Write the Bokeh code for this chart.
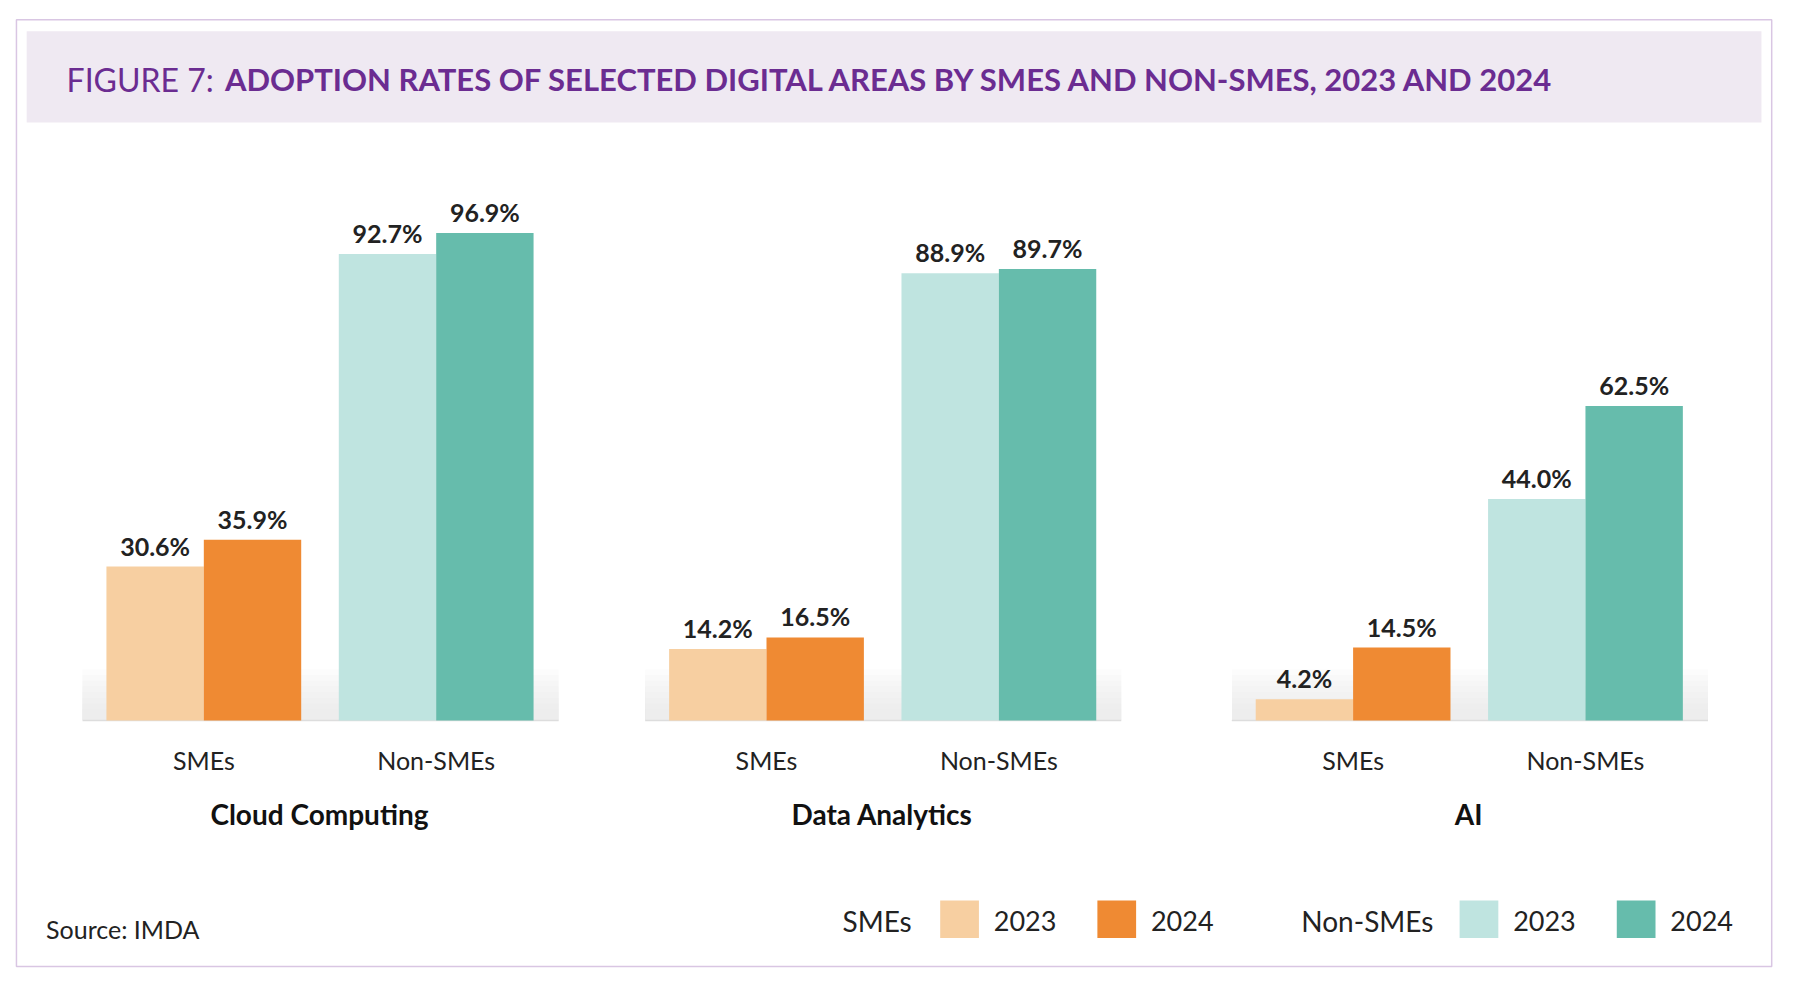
from bokeh.plotting import figure
from bokeh.models import Range1d, ColumnDataSource
from bokeh.core.properties import value
from bokeh.embed import file_html
from bokeh.resources import INLINE

areas = ["Cloud Computing", "Data Analytics", "AI"]
sme_2023 = [30.6, 14.2, 4.2]
sme_2024 = [35.9, 16.5, 14.5]
non_2023 = [92.7, 88.9, 44.0]
non_2024 = [96.9, 89.7, 62.5]
sub_labels = ["SMEs", "Non-SMEs"]
colors = {"s23": "#f7cfa1", "s24": "#ef8a33", "n23": "#bfe4e0", "n24": "#66bcac"}

S = 1786 / 1568.0
PX = 4.417  # reference px per percentage point
def Y(py):
    return (632 - py) / PX

p = figure(width=1786, height=982, output_backend="svg", toolbar_location=None,
           x_range=Range1d(0, 1568), y_range=Range1d(Y(862), Y(0)),
           min_border=0, outline_line_color=None)
p.axis.visible = False
p.grid.visible = False
F = value("Lato")

# border and title box
p.quad(left=[14], right=[1555], top=[Y(17)], bottom=[Y(848)], fill_color=None, line_color="#d9c6e3", line_width=1.5)
p.quad(left=[23], right=[1546], top=[Y(27)], bottom=[Y(107)], fill_color="#efe9f2", line_color=None)
p.text(x=[58], y=[Y(69)], text=["FIGURE 7:"], text_font=F, text_font_size=f"{28*S:.0f}px",
       text_color="#6b2c91", text_baseline="middle", text_align="left")
p.text(x=[197], y=[Y(69)], text=["ADOPTION RATES OF SELECTED DIGITAL AREAS BY SMES AND NON-SMES, 2023 AND 2024"],
       text_font=F, text_font_style="bold", text_font_size=f"{27*S:.0f}px",
       text_color="#6b2c91", text_baseline="middle", text_align="left")

starts = [93, 587, 1102]
bw = 85.5
gap = 33
for i, a in enumerate(areas):
    x0 = starts[i]
    # shaded band
    for k in range(8):
        p.quad(left=[x0 - 21], right=[x0 + 397], bottom=[0], top=[Y(632 - 45 + k * 5)],
               fill_color="#e6e6e6", fill_alpha=0.12, line_color=None)
    p.segment(x0=[x0 - 21], x1=[x0 + 397], y0=[0], y1=[0], line_color="#dddddd", line_width=1.5)
    xs = [x0 + bw / 2, x0 + 1.5 * bw, x0 + 2 * bw + gap + bw / 2, x0 + 2 * bw + gap + 1.5 * bw]
    vals = [sme_2023[i], sme_2024[i], non_2023[i], non_2024[i]]
    cols = [colors["s23"], colors["s24"], colors["n23"], colors["n24"]]
    src = ColumnDataSource(dict(x=xs, top=vals, c=cols, lab=[f"{v:.1f}%" for v in vals]))
    p.vbar(x="x", top="top", bottom=0, width=bw, fill_color="c", line_color=None, source=src)
    p.text(x="x", y="top", text="lab", source=src, text_font=F, text_font_style="bold",
           text_font_size=f"{22*S:.0f}px", text_color="#222222", text_align="center",
           text_baseline="bottom", y_offset=-6)
    p.text(x=[x0 + bw, x0 + 3 * bw + gap], y=[Y(667)] * 2, text=sub_labels, text_font=F,
           text_font_size=f"{22*S:.0f}px", text_color="#222222", text_align="center", text_baseline="middle")
    p.text(x=[x0 + 187], y=[Y(714)], text=[a], text_font=F, text_font_style="bold",
           text_font_size=f"{25*S:.0f}px", text_color="#111111", text_align="center", text_baseline="middle")

# source
p.text(x=[40], y=[Y(815)], text=["Source: IMDA"], text_font=F, text_font_size=f"{22*S:.0f}px",
       text_color="#222222", text_align="left", text_baseline="middle")

# legend
ly = Y(808)
p.text(x=[800, 1258], y=[ly, ly], text=["SMEs", "Non-SMEs"], text_font=F, text_font_size=f"{25*S:.0f}px",
       text_color="#222222", text_align="right", text_baseline="middle")
for lx, c, t in [(825, colors["s23"], "2023"), (963, colors["s24"], "2024"),
                 (1281, colors["n23"], "2023"), (1419, colors["n24"], "2024")]:
    p.quad(left=[lx], right=[lx + 34], top=[Y(790)], bottom=[Y(823)], fill_color=c, line_color=None)
    p.text(x=[lx + 47], y=[ly], text=[t], text_font=F, text_font_size=f"{24*S:.0f}px",
           text_color="#222222", text_align="left", text_baseline="middle")

open("out.html", "w").write(file_html(p, INLINE))
